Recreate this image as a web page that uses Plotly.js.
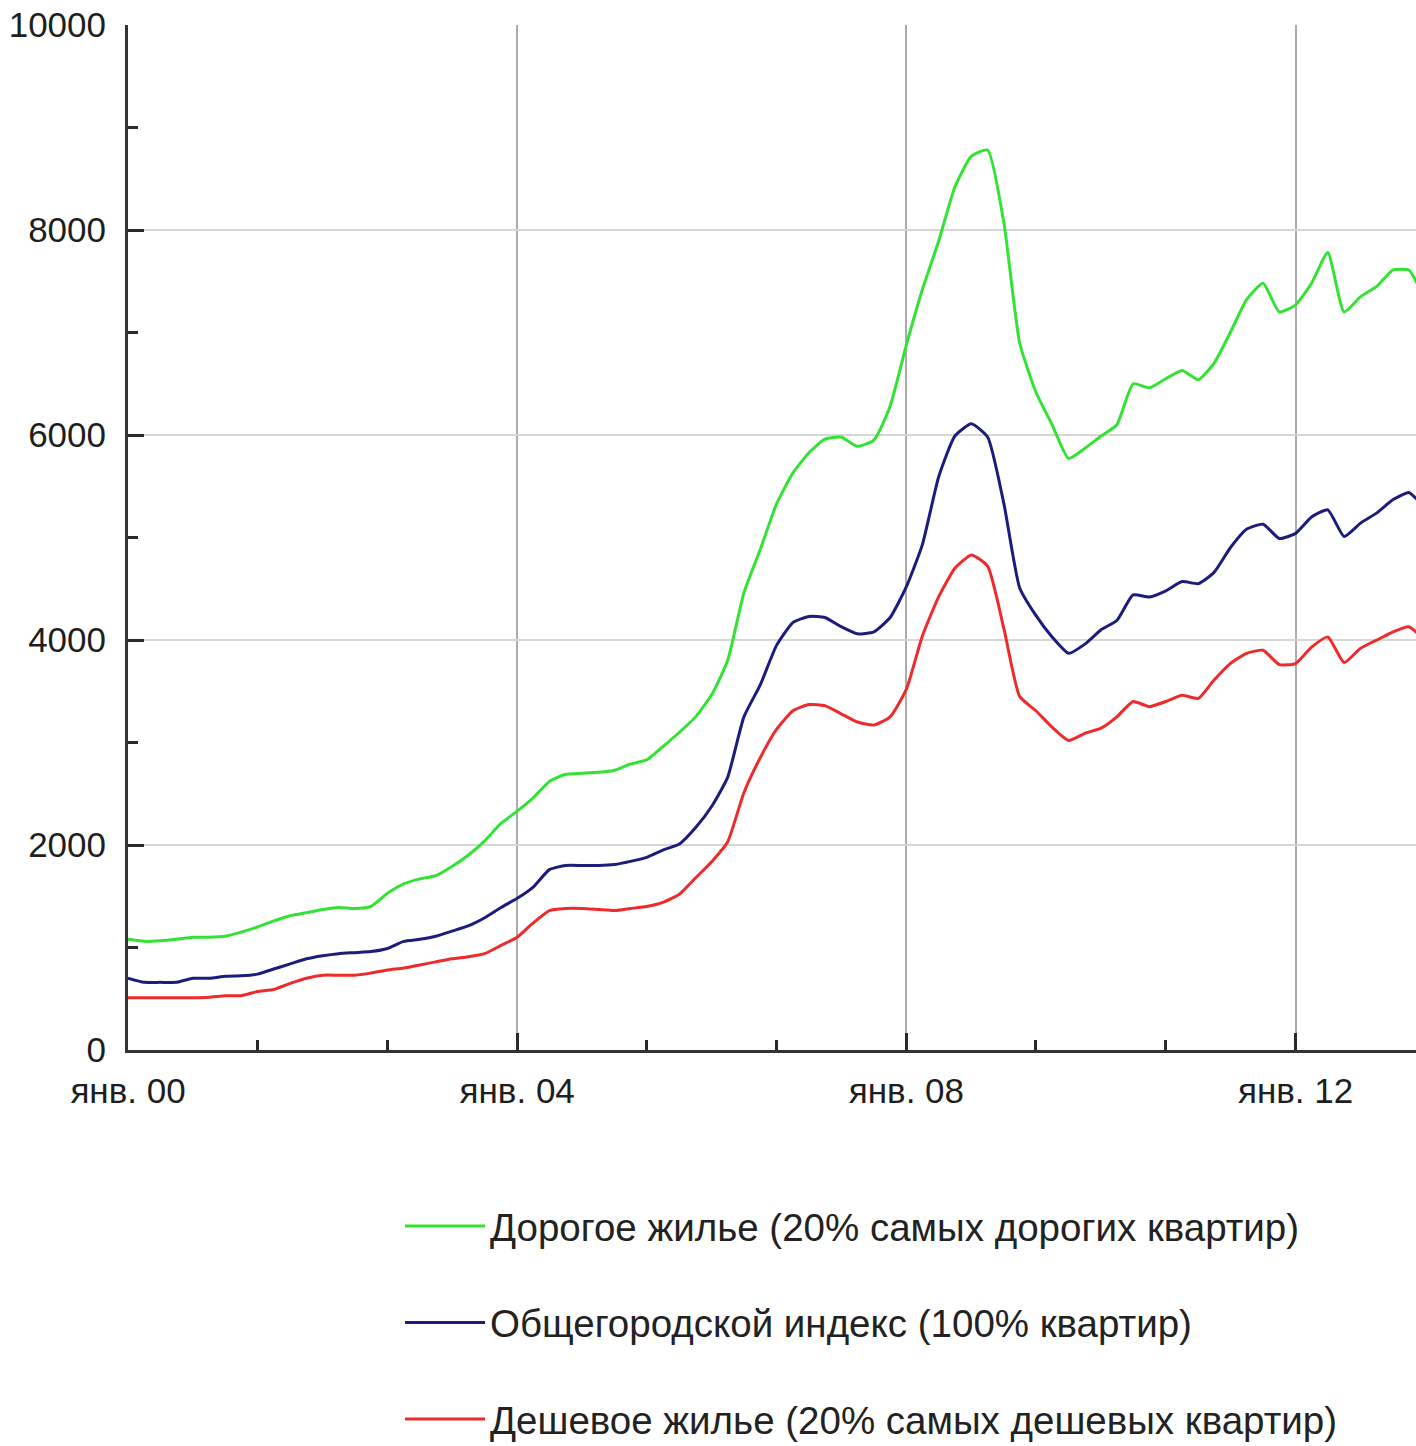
<!DOCTYPE html>
<html>
<head>
<meta charset="utf-8">
<script src="https://cdn.plot.ly/plotly-3.0.1.min.js"></script>
<style>
  html, body { margin: 0; padding: 0; background: #ffffff; }
  #chart { width: 1416px; height: 1446px; }
</style>
</head>
<body>
<div id="chart"></div>
<script>
// Dates (every two months, Jan 2000 – Apr 2013)
const dates = [
  '2000-01-01','2000-03-01','2000-05-01','2000-07-01','2000-09-01','2000-11-01',
  '2001-01-01','2001-03-01','2001-05-01','2001-07-01','2001-09-01','2001-11-01',
  '2002-01-01','2002-03-01','2002-05-01','2002-07-01','2002-09-01','2002-11-01',
  '2003-01-01','2003-03-01','2003-05-01','2003-07-01','2003-09-01','2003-11-01',
  '2004-01-01','2004-03-01','2004-05-01','2004-07-01','2004-09-01','2004-11-01',
  '2005-01-01','2005-03-01','2005-05-01','2005-07-01','2005-09-01','2005-11-01',
  '2006-01-01','2006-03-01','2006-05-01','2006-07-01','2006-09-01','2006-11-01',
  '2007-01-01','2007-03-01','2007-05-01','2007-07-01','2007-09-01','2007-11-01',
  '2008-01-01','2008-03-01','2008-05-01','2008-07-01','2008-09-01','2008-11-01',
  '2009-01-01','2009-03-01','2009-05-01','2009-07-01','2009-09-01','2009-11-01',
  '2010-01-01','2010-03-01','2010-05-01','2010-07-01','2010-09-01','2010-11-01',
  '2011-01-01','2011-03-01','2011-05-01','2011-07-01','2011-09-01','2011-11-01',
  '2012-01-01','2012-03-01','2012-05-01','2012-07-01','2012-09-01','2012-11-01',
  '2013-01-01','2013-03-01','2013-04-01'
];

// Дорогое жилье (20% самых дорогих квартир)
const expensive = [
  1080,1060,1065,1080,1100,1100,
  1110,1150,1200,1260,1310,1340,
  1370,1390,1380,1400,1530,1620,
  1670,1700,1790,1900,2040,2210,
  2330,2460,2620,2690,2700,2710,
  2730,2790,2830,2960,3100,3250,
  3470,3800,4460,4880,5330,5630,
  5830,5960,5980,5890,5950,6280,
  6880,7420,7890,8420,8720,8780,
  8070,6900,6420,6100,5770,5870,
  5990,6100,6500,6460,6550,6630,
  6540,6700,7000,7320,7480,7200,
  7270,7480,7780,7200,7350,7450,
  7610,7610,7480
];

// Общегородской индекс (100% квартир)
const cityIndex = [
  700,660,660,660,700,700,
  720,725,740,790,840,890,
  920,940,950,960,990,1060,
  1080,1110,1160,1210,1290,1390,
  1480,1590,1760,1800,1800,1800,
  1810,1840,1880,1950,2010,2170,
  2380,2660,3250,3560,3950,4170,
  4230,4220,4130,4060,4080,4220,
  4520,4930,5590,5990,6110,5980,
  5330,4510,4240,4030,3870,3960,
  4100,4190,4440,4420,4480,4570,
  4550,4660,4900,5080,5130,4990,
  5040,5200,5270,5010,5140,5240,
  5370,5440,5370
];

// Дешевое жилье (20% самых дешевых квартир)
const cheap = [
  510,510,510,510,510,515,
  530,530,570,590,650,700,
  730,730,730,750,780,800,
  830,860,890,910,940,1020,
  1100,1240,1360,1380,1380,1370,
  1360,1380,1400,1440,1520,1680,
  1840,2030,2510,2850,3130,3310,
  3370,3360,3280,3200,3170,3250,
  3520,4040,4420,4700,4830,4720,
  4110,3450,3310,3150,3020,3090,
  3140,3250,3400,3350,3400,3460,
  3430,3610,3770,3870,3900,3760,
  3770,3930,4030,3780,3920,4000,
  4080,4130,4070
];

const seriesNames = [
  'Дорогое жилье (20% самых дорогих квартир)',
  'Общегородской индекс (100% квартир)',
  'Дешевое жилье (20% самых дешевых квартир)'
];

const xTickVals = ['2000-01-01','2004-01-01','2008-01-01','2012-01-01'];
const xTickText = ['янв. 00','янв. 04','янв. 08','янв. 12'];
const yTickVals = [0,2000,4000,6000,8000,10000];
const yTickText = ['0','2000','4000','6000','8000','10000'];

const colors = ['#33e333', '#1c1c7c', '#ee2a2a'];
const seriesData = [expensive, cityIndex, cheap];

const traces = seriesData.map((ys, i) => ({
  type: 'scatter',
  mode: 'lines',
  x: dates,
  y: ys,
  name: seriesNames[i],
  legendgroup: 'g' + i,
  line: { color: colors[i], width: 3, shape: 'spline', smoothing: 0.5 },
  hoverinfo: 'skip'
}));

const tickFont = { size: 35, color: '#1e1e1e', family: '"Liberation Sans", Arial, sans-serif' };

const layout = {
  width: 1416,
  height: 1446,
  margin: { l: 128, r: 0, t: 25, b: 396, autoexpand: false },
  paper_bgcolor: '#ffffff',
  plot_bgcolor: '#ffffff',
  font: { family: '"Liberation Sans", Arial, sans-serif', color: '#222' },
  showlegend: true,
  legend: {
    orientation: 'v',
    xref: 'container', yref: 'container',
    x: 0.2825, xanchor: 'left',
    y: 0.174, yanchor: 'top',
    font: { size: 38.5, color: '#222', family: '"Liberation Sans", Arial, sans-serif' },
    tracegroupgap: 43.5,
    itemwidth: 80,
    bgcolor: 'rgba(0,0,0,0)',
    borderwidth: 0
  },
  xaxis: {
    type: 'date',
    range: ['2000-01-01', '2013-03-28'],
    tickmode: 'array',
    tickvals: xTickVals,
    ticktext: xTickText,
    tickangle: 0,
    ticks: 'inside',
    ticklen: 17,
    tickwidth: 3,
    tickcolor: '#2a2a2a',
    showline: true,
    linecolor: '#333',
    linewidth: 3,
    showgrid: true,
    gridcolor: '#ababab',
    gridwidth: 2,
    zeroline: false,
    tickfont: tickFont,
    ticklabelstandoff: 8,
    minor: {
      tickmode: 'linear',
      tick0: '2000-01-01',
      dtick: 'M16',
      ticks: 'inside',
      ticklen: 10,
      tickwidth: 3,
      tickcolor: '#2a2a2a',
      showgrid: false
    }
  },
  yaxis: {
    range: [0, 10000],
    tickmode: 'array',
    tickvals: yTickVals,
    ticktext: yTickText,
    ticks: 'inside',
    ticklen: 16,
    tickwidth: 3,
    tickcolor: '#2a2a2a',
    showline: true,
    linecolor: '#333',
    linewidth: 3,
    showgrid: true,
    gridcolor: '#d6d6d6',
    gridwidth: 2.5,
    zeroline: false,
    tickfont: tickFont,
    ticklabelstandoff: 12,
    minor: {
      tickmode: 'linear',
      tick0: 0,
      dtick: 1000,
      ticks: 'inside',
      ticklen: 10,
      tickwidth: 3,
      tickcolor: '#2a2a2a',
      showgrid: false
    }
  }
};

Plotly.newPlot('chart', traces, layout, { staticPlot: true, displayModeBar: false });
</script>
</body>
</html>
